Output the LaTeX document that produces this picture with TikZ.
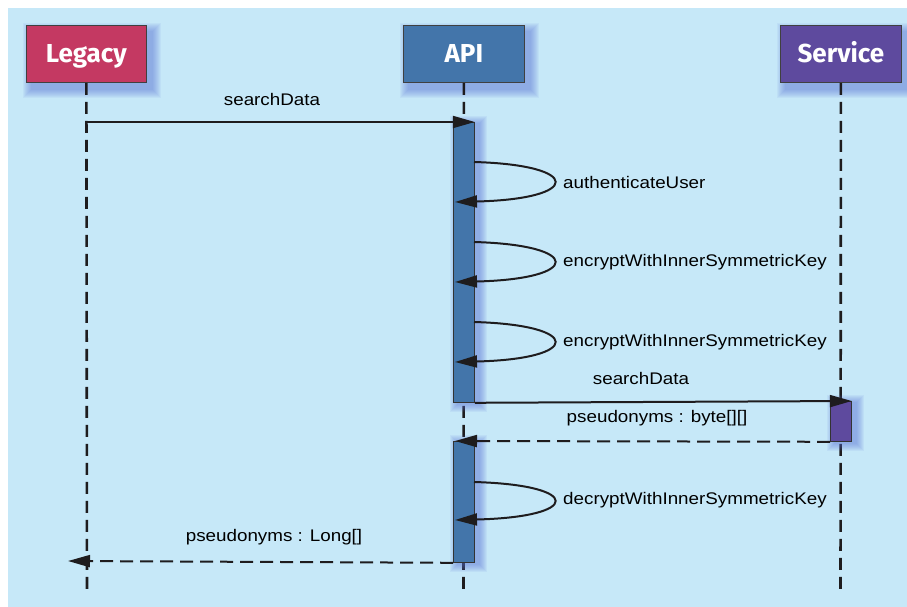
\documentclass[tikz,border=0pt]{standalone}
\usepackage{fontspec}
\setmainfont{Liberation Sans}
\newfontfamily\lblfont[FakeStretch=1.12]{Liberation Sans}
\newfontfamily\headfont{Fira Sans}
\usetikzlibrary{arrows.meta,calc}

\definecolor{bgblue}{RGB}{198,232,248}
\definecolor{legacyred}{RGB}{196,57,98}
\definecolor{apiblue}{RGB}{67,117,170}
\definecolor{servpurple}{RGB}{94,74,158}
\definecolor{shadeblue}{RGB}{90,115,215}
\definecolor{inkblack}{RGB}{30,28,30}

\tikzset{
  actor/.style={draw=black!75, line width=0.8pt, minimum width=120pt, minimum height=57pt,
    inner sep=0pt, anchor=north west},
  activation/.style={draw=black!80, line width=0.8pt, minimum width=21pt,
    inner sep=0pt, anchor=north west},
  lifeline/.style={draw=inkblack, line width=2.6pt, dash pattern=on 12pt off 7pt},
  call/.style={draw=inkblack, line width=2pt, -{Triangle[length=22pt,width=12pt]}},
  reply/.style={call, dash pattern=on 13pt off 7pt},
  selfcall/.style={draw=inkblack, line width=2pt, -{Triangle[length=22pt,width=12pt]}},
  msg/.style={font=\lblfont\fontsize{16.8}{19}\selectfont, text=black, inner sep=0pt},
  headlabel/.style={font=\headfont\bfseries\fontsize{26}{30}\selectfont, inner sep=0pt,
    anchor=base, text=white},
}

\begin{document}
\begin{tikzpicture}[x=1pt,y=-1pt]
  \useasboundingbox (0,0) rectangle (907,607);
  \fill[bgblue] (8,8) rectangle (907,607);

  % participant boxes with a soft blue glow behind them
  \path (26,25)  coordinate (legacy-nw)  +(120,57) coordinate (legacy-se);
  \path (403,25) coordinate (api-nw)     +(121,57) coordinate (api-se);
  \path (780,25) coordinate (service-nw) +(121,57) coordinate (service-se);
  \foreach \n in {legacy, api, service} {
    \foreach \r in {1,2,...,9} {
      \fill[shadeblue, opacity=0.07]
        ($(\n-nw)+(6-\r,7-\r)$) rectangle ($(\n-se)+(6+\r,7+\r)$);
    }
  }
  \node[actor, fill=legacyred]  (legacy)  at (26,25)  {};
  \node[actor, fill=apiblue, minimum width=121pt]    (api)     at (403,25) {};
  \node[actor, fill=servpurple, minimum width=121pt] (service) at (780,25) {};

  \foreach \n/\t in {legacy/Legacy, api/API, service/Service} {
    \node[headlabel] (\n-label) at (\n.center |- 0,63) {\t};
  }

  % lifeline ends
  \coordinate (legacy-end)  at (87,595);
  \coordinate (api-end)     at (463.5,595);
  \coordinate (service-end) at (840.5,595);

  \draw[lifeline] (legacy.south)  -- (legacy-end);
  \draw[lifeline] (api.south)     -- (api-end);
  \draw[lifeline] (service.south) -- (service-end);

  % activation bars with their glow
  \path (453,122) coordinate (act1-nw) +(21,280) coordinate (act1-se);
  \path (453,441) coordinate (act2-nw) +(21,121) coordinate (act2-se);
  \path (830,401) coordinate (act3-nw) +(21,40)  coordinate (act3-se);
  \foreach \n in {act1, act2, act3} {
    \foreach \r in {1,2,...,8} {
      \fill[shadeblue, opacity=0.08]
        ($(\n-nw)+(5-\r,2-\r)$) rectangle ($(\n-se)+(5+\r,2+\r)$);
    }
  }
  \node[activation, fill=apiblue,    minimum height=280pt] (act1) at (act1-nw) {};
  \node[activation, fill=apiblue,    minimum height=121pt] (act2) at (act2-nw) {};
  \node[activation, fill=servpurple, minimum height=40pt]  (act3) at (act3-nw) {};

  % searchData: Legacy -> API
  \coordinate (m1-start) at (legacy.south |- act1.north);
  \draw[call] (m1-start) -- (act1.north east);
  \node[msg] (m1-label) at (272,99) {searchData};

  % self calls on the API
  \foreach \y/\txt/\nm in {162/authenticateUser/auth,
                           242/encryptWithInnerSymmetricKey/encA,
                           322/encryptWithInnerSymmetricKey/encB} {
    \coordinate (\nm-out) at (474,\y);
    \coordinate (\nm-in)  at (455,\y+40);
    \draw[selfcall] (\nm-out) .. controls (583,\y+3) and (582,\y+37) .. (\nm-in);
    \node[msg, anchor=west] (\nm-label) at (563,\y+20) {\txt};
  }

  % searchData: API -> Service
  \coordinate (m2-start) at (act1.south east);
  \draw[call] (m2-start) -- (act3.north east);
  \node[msg] (m2-label) at (641,378) {searchData};

  % reply: Service -> API
  \draw[reply] (act3.south west) -- ($(act2.north west)+(2,0)$);
  \node[msg] (r1-label) at (657,418) {pseudonyms : byte[][]};

  % decrypt self call
  \coordinate (dec-out) at (474,482);
  \coordinate (dec-in)  at (455,520);
  \draw[selfcall] (dec-out) .. controls (583,485) and (582,517) .. (dec-in);
  \node[msg, anchor=west] (dec-label) at (563,500) {decryptWithInnerSymmetricKey};

  % reply: API -> Legacy
  \coordinate (r2-end) at (68,561);
  \draw[reply] (act2.south west) -- (r2-end);
  \node[msg] (r2-label) at (274,537) {pseudonyms : Long[]};
\end{tikzpicture}
\end{document}
